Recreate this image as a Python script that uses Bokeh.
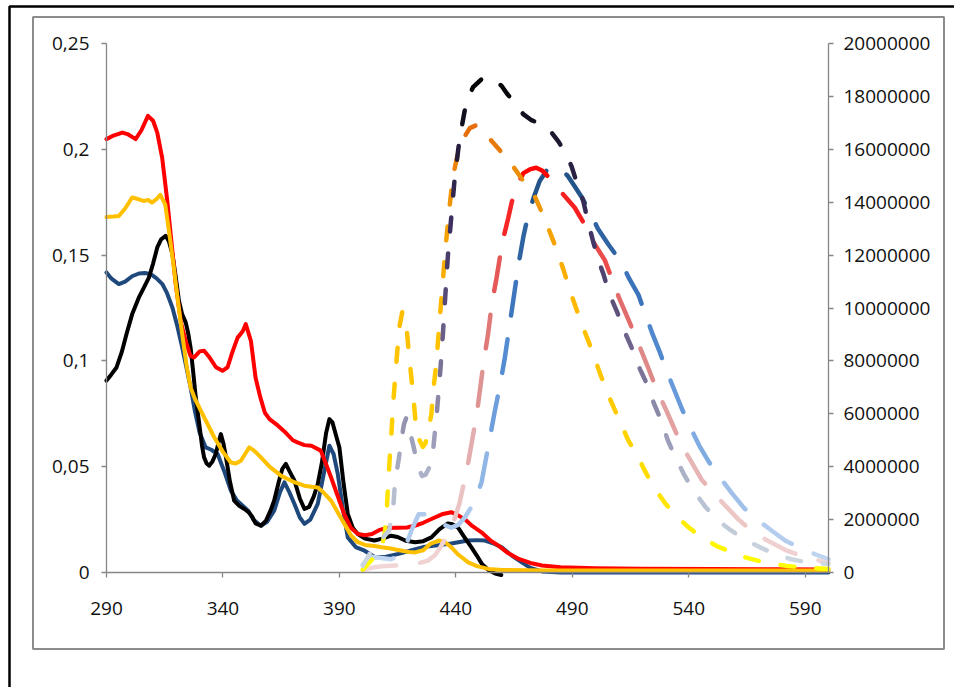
import math
from bokeh.plotting import figure
from bokeh.models import Range1d, LinearAxis, FixedTicker, BoxAnnotation
from bokeh.embed import file_html
from bokeh.resources import INLINE

# ---------------- data ----------------
# absorbance (left axis)
abs_red_x = [290, 293, 296.8, 299, 302.5, 305, 307.8, 310, 311.8, 313.9, 316.1, 318, 319.7, 322, 324, 326, 327.6, 330, 331.9, 334,
             337, 339.8, 342, 344, 346.3, 348.5, 349.8, 352, 354, 356, 358, 360, 363.5, 367, 370, 372, 375, 378, 382, 384,
             386.4, 389, 392, 395, 398, 401, 404, 407, 410, 415, 419, 422.3, 426, 429.5, 434, 438, 441, 444, 447, 451,
             455, 458.3, 462, 467, 472, 477, 485, 500, 520, 550, 580, 600]
abs_red = [0.2048, 0.2065, 0.2079, 0.2072, 0.2048, 0.209, 0.2158, 0.2135, 0.2079, 0.196, 0.1756, 0.155, 0.1363, 0.118, 0.1095, 0.1025, 0.1016, 0.1045, 0.1048, 0.102,
           0.097, 0.0953, 0.097, 0.104, 0.111, 0.114, 0.1174, 0.1095, 0.092, 0.083, 0.0755, 0.0725, 0.0695, 0.066, 0.0625, 0.0615, 0.0602, 0.0599, 0.0576, 0.052,
           0.045, 0.037, 0.0277, 0.021, 0.0182, 0.0176, 0.0182, 0.02, 0.021, 0.0212, 0.0213, 0.0221, 0.0235, 0.0253, 0.0275, 0.0285, 0.027, 0.025, 0.022, 0.019,
           0.015, 0.0127, 0.0095, 0.0064, 0.0045, 0.0033, 0.0025, 0.002, 0.0018, 0.0016, 0.0015, 0.0014]

abs_orange_x = [290, 293, 295.3, 298, 301, 303.5, 305.9, 308, 309.5, 311.5, 313.1, 315.2, 317, 318.9, 320.7, 322.5, 324.5, 326.1, 328, 330.5,
                333, 336.3, 340, 343.4, 345.5, 347.7, 349.5, 351.3, 353.5, 356.3, 360, 364.9, 370, 374.9, 378, 380.7, 383, 386.4, 389, 392.1,
                395, 397.9, 401, 405, 408.2, 412, 416.8, 420, 422.5, 426, 429, 432.6, 435.5, 438.1, 441, 445.3, 449, 453.9, 460, 480,
                520, 560, 600]
abs_orange = [0.168, 0.1682, 0.1685, 0.172, 0.1772, 0.1765, 0.1756, 0.176, 0.1748, 0.1765, 0.1785, 0.174, 0.16, 0.1441, 0.128, 0.1127, 0.097, 0.0875, 0.082, 0.0765,
              0.071, 0.0638, 0.057, 0.052, 0.0515, 0.0528, 0.056, 0.0591, 0.0575, 0.0544, 0.05, 0.0458, 0.043, 0.041, 0.0405, 0.0402, 0.038, 0.034, 0.029, 0.023,
              0.0175, 0.0143, 0.013, 0.0125, 0.0119, 0.0113, 0.0103, 0.0097, 0.0095, 0.0105, 0.0135, 0.0151, 0.0142, 0.0119, 0.0085, 0.0048, 0.003, 0.0017, 0.0012, 0.001,
              0.001, 0.001, 0.001]

abs_blue_x = [290, 292, 295.3, 298, 301, 303.9, 306.5, 309, 311.5, 314, 316, 318.3, 320.5, 322.5, 324.3, 326.1, 328, 330, 332.6, 335,
              337.7, 340.5, 343.4, 346, 349.2, 351, 353, 356.3, 359, 362, 364.5, 366.4, 368.5, 370.7, 373, 375, 377.5, 380.7, 383, 385.7,
              387.5, 389.3, 391.5, 393.6, 397, 400.8, 405.3, 410, 415.4, 421, 426, 431.2, 438, 445.3, 449, 452.5, 456, 459.7, 464, 468.3,
              472, 477, 485, 600]
abs_blue = [0.1418, 0.139, 0.1363, 0.1375, 0.14, 0.1413, 0.1415, 0.141, 0.139, 0.1363, 0.132, 0.1252, 0.116, 0.1063, 0.097, 0.0875, 0.076, 0.066, 0.0591, 0.058,
            0.056, 0.048, 0.0387, 0.034, 0.0308, 0.029, 0.025, 0.0221, 0.024, 0.0292, 0.038, 0.0426, 0.038, 0.0324, 0.026, 0.023, 0.025, 0.0324, 0.045, 0.0599,
            0.056, 0.0466, 0.03, 0.0166, 0.012, 0.0103, 0.0072, 0.0075, 0.0088, 0.0105, 0.012, 0.0127, 0.0137, 0.0151, 0.0153, 0.0151, 0.0138, 0.0119, 0.008, 0.0048,
            0.0022, 0.0005, 0.0, 0.0]

abs_black_x = [290, 292, 294.3, 296.5, 298.6, 301, 303.9, 306, 308.2, 310, 311.8, 313.5, 315.4, 316.8, 318.3, 319.7, 321.1, 322.5, 324, 325,
               326.1, 327.2, 328.3, 329.5, 331, 331.9, 333, 334.1, 335.5, 336.9, 338, 339.1, 340.2, 341.3, 343, 344.8, 347, 349.2, 351, 352.5,
               354, 356.3, 358.5, 360.5, 362, 364, 365.5, 367, 368.5, 370.7, 373, 375, 377, 379, 380.7, 382.5, 384.3, 385.7, 387, 388.5,
               390, 391.8, 393.6, 395.8, 397.9, 401, 405, 408.5, 412.2, 415, 418.5, 422.5, 426, 429.5, 433, 436.6, 438.5, 440.9, 443.5, 446.7,
               449, 451.2, 454, 456.9, 459.5]
abs_black = [0.0907, 0.0935, 0.0969, 0.104, 0.1127, 0.122, 0.13, 0.1345, 0.1394, 0.146, 0.1536, 0.1575, 0.1591, 0.1565, 0.1505, 0.14, 0.1284, 0.122, 0.1182, 0.1135,
             0.1063, 0.095, 0.083, 0.073, 0.06, 0.0544, 0.0515, 0.0505, 0.0525, 0.056, 0.061, 0.0654, 0.061, 0.0544, 0.043, 0.034, 0.0315, 0.03, 0.0285, 0.0265,
             0.0232, 0.0221, 0.0245, 0.0295, 0.034, 0.043, 0.049, 0.0513, 0.048, 0.0434, 0.035, 0.03, 0.031, 0.036, 0.0418, 0.052, 0.066, 0.0725, 0.071, 0.065,
             0.0591, 0.042, 0.0277, 0.021, 0.0182, 0.016, 0.0151, 0.016, 0.0174, 0.0168, 0.015, 0.0143, 0.0148, 0.0166, 0.0205, 0.0232, 0.0228, 0.0213, 0.017, 0.0119,
             0.008, 0.004, 0.0012, -0.0005, -0.0012]

# emission (right axis)
em_orange_x = [400, 403, 406, 408, 409.5, 410.3, 410.9, 411.6, 412.3, 413.1, 414.4, 415.8, 417, 418.7, 419.5, 420.3, 421.2, 422, 422.8, 424.4,
               425.8, 427, 428, 429.5, 430.2, 431.6, 433, 434.3, 435.5, 437, 438.8, 441, 443.5, 446, 448.5, 451.5, 455, 460, 465, 469,
               474, 478, 482, 486, 490, 494, 498, 502, 506, 510, 514, 518, 522, 526, 530, 535, 540, 546, 552, 558,
               564, 570, 576, 582, 588, 594, 600]
em_orange = [0.1e6, 0.4e6, 0.65e6, 0.9e6, 1.5e6, 2.3e6, 3.3e6, 4.3e6, 5.2e6, 6.4e6, 7.9e6, 9.3e6, 9.85e6, 9.4e6, 8.6e6, 7.9e6, 7.1e6, 6.4e6, 5.6e6, 5.0e6,
             4.75e6, 4.9e6, 5.3e6, 6.0e6, 6.8e6, 7.9e6, 9.5e6, 10.9e6, 12.2e6, 13.6e6, 15.0e6, 15.9e6, 16.45e6, 16.8e6, 16.9e6, 16.75e6, 16.35e6, 15.85e6, 15.3e6, 14.8e6,
             14.2e6, 13.4e6, 12.5e6, 11.5e6, 10.4e6, 9.4e6, 8.5e6, 7.5e6, 6.6e6, 5.8e6, 5.0e6, 4.4e6, 3.7e6, 3.1e6, 2.6e6, 2.1e6, 1.7e6, 1.3e6, 1.0e6, 0.78e6,
             0.58e6, 0.44e6, 0.33e6, 0.25e6, 0.2e6, 0.16e6, 0.13e6]

em_black_x = [400, 403, 406, 409, 411.4, 413, 413.7, 414.4, 415.5, 416.6, 417.7, 418.7, 419.6, 420.6, 421.6, 423, 424.2, 425.5, 427, 428.5,
              430.2, 431.9, 433.3, 434.5, 435.5, 436.6, 438.1, 439.5, 441.6, 444.5, 447.4, 451, 454.5, 457, 459.6, 462, 465.3, 468.9, 472.5, 476.8,
              481.1, 484, 486.8, 489.7, 492.6, 494.7, 496.9, 499, 501.2, 503.3, 506, 509, 512.5, 516, 519, 522.7, 525, 528.4, 531, 534,
              538, 542, 547, 552, 558, 564, 570.6, 577, 584, 591, 600]
em_black = [0.25e6, 0.7e6, 1.1e6, 1.35e6, 1.6e6, 2.3e6, 3.2e6, 3.7e6, 4.3e6, 5.0e6, 5.6e6, 5.85e6, 5.55e6, 5.2e6, 4.85e6, 4.3e6, 3.9e6, 3.65e6, 3.7e6, 3.95e6,
            4.6e6, 6.1e6, 7.6e6, 9.1e6, 10.5e6, 12.0e6, 13.5e6, 14.9e6, 16.4e6, 17.8e6, 18.35e6, 18.65e6, 18.7e6, 18.6e6, 18.4e6, 18.1e6, 17.75e6, 17.33e6, 17.1e6, 16.95e6,
            16.63e6, 16.3e6, 15.9e6, 15.35e6, 14.55e6, 14.05e6, 13.2e6, 12.5e6, 11.8e6, 11.3e6, 10.5e6, 9.9e6, 9.1e6, 8.4e6, 7.7e6, 7.0e6, 6.4e6, 5.7e6, 5.0e6, 4.4e6,
            3.7e6, 3.1e6, 2.5e6, 2.0e6, 1.6e6, 1.25e6, 0.95e6, 0.7e6, 0.5e6, 0.38e6, 0.33e6]

em_red_x = [400, 405, 410, 415, 420, 424, 428, 431, 433, 435, 437, 439, 441.5, 443.5, 445.4, 447, 449, 450.5, 452, 453.8,
            455.5, 457.4, 460, 462.5, 464, 466, 469, 472, 474.5, 477, 481, 485, 488, 491, 495, 499, 504, 507, 510, 513.4,
            516.8, 520, 523.2, 526.3, 530, 533.5, 537, 541, 545.6, 550.7, 556, 561.4, 568, 575, 581.5, 588, 594, 600]
em_red = [0.1e6, 0.2e6, 0.25e6, 0.27e6, 0.3e6, 0.35e6, 0.45e6, 0.65e6, 0.9e6, 1.2e6, 1.5e6, 1.9e6, 2.6e6, 3.4e6, 4.2e6, 5.0e6, 6.0e6, 7.0e6, 8.0e6, 9.0e6,
          10.2e6, 11.1e6, 12.5e6, 13.4e6, 14.0e6, 14.6e6, 15.1e6, 15.25e6, 15.3e6, 15.2e6, 14.85e6, 14.4e6, 14.1e6, 13.8e6, 13.2e6, 12.5e6, 11.8e6, 11.1e6, 10.4e6, 9.7e6,
          9.0e6, 8.3e6, 7.6e6, 6.9e6, 6.2e6, 5.5e6, 4.8e6, 4.2e6, 3.5e6, 3.0e6, 2.5e6, 2.0e6, 1.5e6, 1.15e6, 0.85e6, 0.64e6, 0.5e6, 0.35e6]

em_blue_x = [400, 404, 408, 412, 415, 418, 421, 424, 427, 431, 435, 438, 441, 444, 447.5, 451, 454, 456.5, 459, 461,
             463, 465, 467, 469, 471, 473.5, 476, 479, 482, 485, 488, 491, 494, 497, 501, 505.5, 510.5, 514.5, 518.4, 521.2,
             524.5, 527.7, 530.6, 533.8, 537, 540.6, 544.5, 548.5, 553.4, 558.5, 563.6, 569.3, 575.4, 581.5, 588.6, 594, 600]
em_blue = [0.3e6, 0.6e6, 0.55e6, 0.5e6, 0.6e6, 0.9e6, 1.6e6, 2.2e6, 2.2e6, 2.0e6, 1.8e6, 1.7e6, 1.8e6, 2.1e6, 2.6e6, 3.4e6, 4.8e6, 6.0e6, 7.1e6, 8.1e6,
           9.3e6, 10.5e6, 11.7e6, 12.7e6, 13.5e6, 14.2e6, 14.8e6, 15.2e6, 15.35e6, 15.25e6, 15.0e6, 14.6e6, 14.2e6, 13.7e6, 13.0e6, 12.4e6, 11.8e6, 11.1e6, 10.5e6, 9.8e6,
           9.0e6, 8.3e6, 7.6e6, 6.9e6, 6.2e6, 5.5e6, 4.8e6, 4.2e6, 3.6e6, 3.0e6, 2.45e6, 2.0e6, 1.6e6, 1.2e6, 0.9e6, 0.7e6, 0.5e6]

x_ticks = [290, 340, 390, 440, 490, 540, 590]
abs_ticks = [0, 0.05, 0.1, 0.15, 0.2, 0.25]
abs_tick_labels = ["0", "0,05", "0,1", "0,15", "0,2", "0,25"]
em_ticks = [0, 2000000, 4000000, 6000000, 8000000, 10000000, 12000000, 14000000, 16000000, 18000000, 20000000]
em_tick_labels = ["0", "2000000", "4000000", "6000000", "8000000", "10000000", "12000000", "14000000", "16000000", "18000000", "20000000"]

# ---------------- layout ----------------
W, H = 954, 687                 # canvas = whole window
PL, PR, PT, PB = 106, 828, 43, 572   # pixel box of the plot area (axes)
X0, X1 = 290, 600
A0, A1 = 0, 0.25
E0, E1 = 0, 20000000
FONT = "Open Sans"

def ext_range(lo, hi, p_lo, p_hi, total, flip=False):
    k = (hi - lo) / (p_hi - p_lo)
    if not flip:
        return lo - p_lo * k, hi + (total - p_hi) * k
    return lo - (total - p_hi) * k, hi + p_lo * k

xr = ext_range(X0, X1, PL, PR, W)
ar = ext_range(A0, A1, PT, PB, H, flip=True)
er = ext_range(E0, E1, PT, PB, H, flip=True)

def px_x(px):
    return xr[0] + px / W * (xr[1] - xr[0])

def px_y(py):
    return ar[1] - py / H * (ar[1] - ar[0])

p = figure(width=W, height=H, output_backend="svg", toolbar_location=None,
           x_range=Range1d(*xr), y_range=Range1d(*ar),
           x_axis_location=None, y_axis_location=None,
           min_border=0, min_border_left=0, min_border_right=0, min_border_top=0, min_border_bottom=0,
           background_fill_color="white", border_fill_color="white")
p.title.visible = False
p.outline_line_color = None
p.xgrid.visible = False
p.ygrid.visible = False
p.extra_y_ranges = {"em": Range1d(*er)}

x_axis = LinearAxis(fixed_location=0, bounds=(X0, X1))
left_axis = LinearAxis(fixed_location=X0, bounds=(A0, A1))
right_axis = LinearAxis(y_range_name="em", fixed_location=X1, bounds=(E0, E1))
p.add_layout(x_axis, "below")
p.add_layout(left_axis, "left")
p.add_layout(right_axis, "right")

x_axis.ticker = FixedTicker(ticks=x_ticks)
left_axis.ticker = FixedTicker(ticks=abs_ticks)
left_axis.major_label_overrides = dict(zip(abs_ticks, abs_tick_labels))
right_axis.ticker = FixedTicker(ticks=em_ticks)
right_axis.major_label_overrides = dict(zip(em_ticks, em_tick_labels))

for ax in [x_axis, left_axis, right_axis]:
    ax.axis_line_color = "#868686"
    ax.axis_line_width = 1.3
    ax.major_tick_line_color = "#868686"
    ax.major_tick_line_width = 1.3
    ax.major_tick_in = 0
    ax.major_tick_out = 5
    ax.minor_tick_line_color = None
    ax.major_label_text_font = FONT
    ax.major_label_text_font_size = "19px"
    ax.major_label_text_color = "#111111"
x_axis.major_label_standoff = 24
left_axis.major_label_standoff = 12
right_axis.major_label_standoff = 10

# chart-area border (grey) and outer frame (black)
p.add_layout(BoxAnnotation(left=px_x(32.5), right=px_x(943.5), top=px_y(16.5), bottom=px_y(648.5),
                           fill_color=None, fill_alpha=0, line_color="#8c8c8c", line_alpha=1.0, line_width=2,
                           level="overlay"))
p.add_layout(BoxAnnotation(left=px_x(9), right=px_x(W + 30), top=px_y(6), bottom=px_y(H + 30),
                           fill_color=None, fill_alpha=0, line_color="black", line_alpha=1.0, line_width=2.5,
                           level="overlay"))

# ---------------- absorbance (solid) ----------------
for xs, ys, col in [(abs_blue_x, abs_blue, "#1F497D"), (abs_black_x, abs_black, "#000000"),
                    (abs_red_x, abs_red, "#FF0000"), (abs_orange_x, abs_orange, "#FFC000")]:
    p.line(xs, ys, line_color=col, line_width=4, line_join="round", line_cap="round")

# ---------------- emission (gradient dashed) ----------------
SX = (PR - PL) / (X1 - X0)
SY = (PB - PT) / (E1 - E0)

def hex_rgb(h):
    h = h.lstrip("#")
    return tuple(int(h[i:i + 2], 16) for i in (0, 2, 4))

def grad_color(stops, f):
    f = max(0.0, min(1.0, f))
    for (f0, c0), (f1, c1) in zip(stops[:-1], stops[1:]):
        if f <= f1:
            t = 0 if f1 == f0 else (f - f0) / (f1 - f0)
            a, b = hex_rgb(c0), hex_rgb(c1)
            return "#%02x%02x%02x" % tuple(int(round(a[i] + (b[i] - a[i]) * t)) for i in range(3))
    return stops[-1][1]

def dashed_gradient(xs, ys, on, off, stops):
    vmax = max(ys)
    sx = [(x - X0) * SX for x in xs]
    sy = [(y - E0) * SY for y in ys]
    cum = [0.0]
    for i in range(1, len(sx)):
        cum.append(cum[-1] + math.hypot(sx[i] - sx[i - 1], sy[i] - sy[i - 1]))
    total = cum[-1]

    def point_at(s):
        for i in range(1, len(cum)):
            if s <= cum[i] or i == len(cum) - 1:
                seg = cum[i] - cum[i - 1]
                t = 0 if seg == 0 else (s - cum[i - 1]) / seg
                return (sx[i - 1] + (sx[i] - sx[i - 1]) * t, sy[i - 1] + (sy[i] - sy[i - 1]) * t)

    out_x, out_y, cols = [], [], []
    s = 0.0
    while s < total:
        s1 = min(s + on, total)
        pts = [point_at(s)] + [(sx[i], sy[i]) for i in range(len(cum)) if s < cum[i] < s1] + [point_at(s1)]
        dx = [X0 + a / SX for a, _ in pts]
        dy = [E0 + b / SY for _, b in pts]
        out_x.append(dx)
        out_y.append(dy)
        cols.append(grad_color(stops, (sum(dy) / len(dy)) / vmax))
        s += on + off
    return out_x, out_y, cols

blue_stops = [(0, "#C6D9F1"), (0.15, "#A9C6EC"), (0.3, "#80ACE2"), (0.5, "#5990D6"), (0.7, "#3C74BC"), (0.85, "#2C609C"), (1.0, "#1F4E80")]
red_stops = [(0, "#F2D8D8"), (0.15, "#EDC6C6"), (0.3, "#E4AEAE"), (0.5, "#DE8C8C"), (0.7, "#E36262"), (0.85, "#F23434"), (1.0, "#FF0000")]
orange_stops = [(0, "#FFFF00"), (0.15, "#FFE600"), (0.35, "#FFCC00"), (0.55, "#FFC000"), (0.75, "#F5A300"), (0.9, "#EC8C0A"), (1.0, "#E46C0A")]
black_stops = [(0, "#D0DAE4"), (0.12, "#BDC7D5"), (0.25, "#A0A3BD"), (0.4, "#7C7599"), (0.55, "#5A4D79"), (0.7, "#3E3161"), (0.85, "#241C3A"), (1.0, "#000000")]

for xs, ys, on, off, stops in [(em_blue_x, em_blue, 34, 24, blue_stops),
                               (em_red_x, em_red, 34, 24, red_stops),
                               (em_orange_x, em_orange, 14, 22, orange_stops),
                               (em_black_x, em_black, 14, 22, black_stops)]:
    dx, dy, cols = dashed_gradient(xs, ys, on, off, stops)
    p.multi_line(dx, dy, line_color=cols, line_width=4.5, line_cap="round", line_join="round", y_range_name="em")

open("out.html", "w").write(file_html(p, INLINE))
